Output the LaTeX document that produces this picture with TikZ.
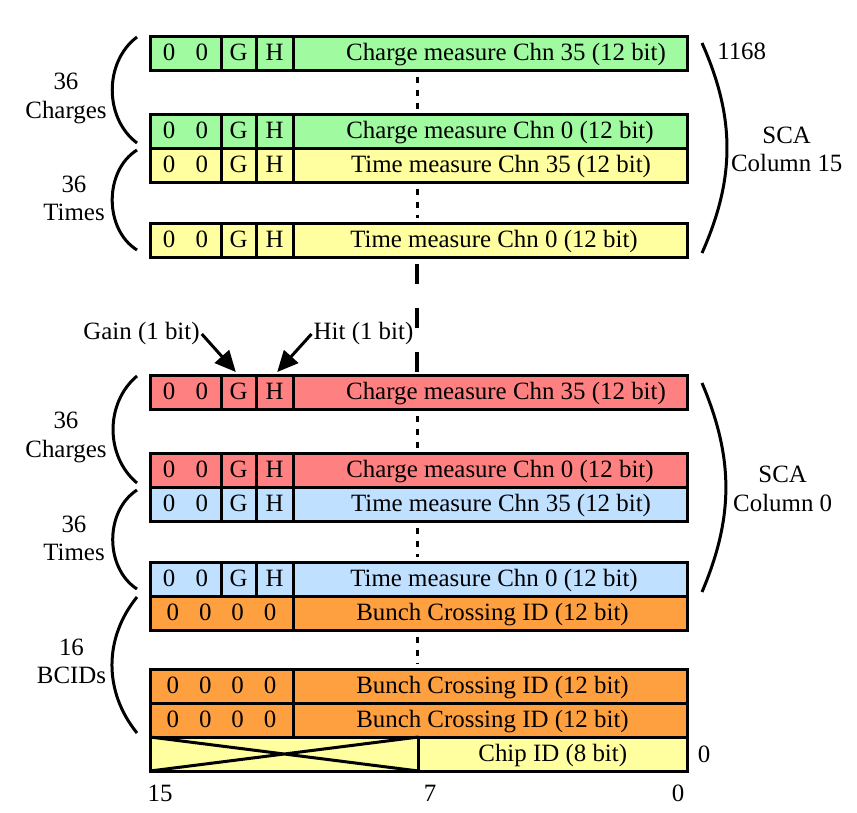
\documentclass[tikz,border=0pt]{standalone}
\usepackage{fontspec}
\setmainfont{Liberation Serif}
\usepackage{xcolor}
\usetikzlibrary{positioning,calc,arrows.meta}

\definecolor{chggreen}{RGB}{160,250,160}
\definecolor{timyellow}{RGB}{255,255,160}
\definecolor{chgred}{RGB}{255,128,128}
\definecolor{timblue}{RGB}{192,224,255}
\definecolor{bcidorange}{RGB}{255,160,64}

\newcommand{\zerotwo}{0\hspace{20.5pt}0}
\newcommand{\zerofour}{0\hspace{20pt}0\hspace{20pt}0\hspace{20pt}0}

\begin{document}
\begin{tikzpicture}[x=1pt, y=-1pt, node distance=0pt,
	font=\fontsize{24.9pt}{28.5pt}\selectfont,
	cell/.style={draw, line width=3pt, inner sep=0pt, outer sep=0pt, minimum height=34pt, text height=19pt, text depth=4pt},
	zz/.style={cell, minimum width=71pt},
	gb/.style={cell, minimum width=35pt},
	hb/.style={cell, minimum width=37pt},
	meas/.style={cell, minimum width=394pt},
	zzzz/.style={cell, minimum width=143pt},
	half/.style={cell, minimum width=268.5pt},
	chgA/.style={fill=chggreen}, timA/.style={fill=timyellow},
	chgB/.style={fill=chgred}, timB/.style={fill=timblue},
	bcid/.style={fill=bcidorange}, chip/.style={fill=timyellow},
	paren/.style={line width=3pt},
	dots/.style={line width=3pt, dash pattern=on 6pt off 7pt, shorten <=7pt, shorten >=5pt},
	gap/.style={line width=4pt, dash pattern=on 20pt off 24pt, shorten <=7pt, shorten >=3pt},
	ptr/.style={-{Triangle[length=21pt,width=19pt]}, line width=3pt, shorten >=4pt},
	lbl/.style={align=center, inner sep=2pt}]
	\useasboundingbox (0,0) rectangle (857,812);

	% SCA column 15
	\node[zz,chgA] (z1) at (185.5,53)          {\zerotwo};
	\node[gb,chgA] (g1) [right=of z1]          {G};
	\node[hb,chgA] (h1) [right=of g1]          {H};
	\node[meas,chgA] (m1) [right=of h1]        {\hspace*{32pt}Charge measure Chn 35 (12 bit)};
	\node[zz,chgA] (z2) [below=44pt of z1]     {\zerotwo};
	\node[gb,chgA] (g2) [right=of z2]          {G};
	\node[hb,chgA] (h2) [right=of g2]          {H};
	\node[meas,chgA] (m2) [right=of h2]        {\hspace*{20pt}Charge measure Chn 0 (12 bit)};
	\node[zz,timA] (z3) [below=of z2]          {\zerotwo};
	\node[gb,timA] (g3) [right=of z3]          {G};
	\node[hb,timA] (h3) [right=of g3]          {H};
	\node[meas,timA] (m3) [right=of h3]        {\hspace*{22pt}Time measure Chn 35 (12 bit)};
	\node[zz,timA] (z4) [below=41pt of z3]     {\zerotwo};
	\node[gb,timA] (g4) [right=of z4]          {G};
	\node[hb,timA] (h4) [right=of g4]          {H};
	\node[meas,timA] (m4) [right=of h4]        {\hspace*{8pt}Time measure Chn 0 (12 bit)};

	% SCA column 0
	\node[zz,chgB] (z5) [below=118pt of z4]    {\zerotwo};
	\node[gb,chgB] (g5) [right=of z5]          {G};
	\node[hb,chgB] (h5) [right=of g5]          {H};
	\node[meas,chgB] (m5) [right=of h5]        {\hspace*{32pt}Charge measure Chn 35 (12 bit)};
	\node[zz,chgB] (z6) [below=44pt of z5]     {\zerotwo};
	\node[gb,chgB] (g6) [right=of z6]          {G};
	\node[hb,chgB] (h6) [right=of g6]          {H};
	\node[meas,chgB] (m6) [right=of h6]        {\hspace*{20pt}Charge measure Chn 0 (12 bit)};
	\node[zz,timB] (z7) [below=of z6]          {\zerotwo};
	\node[gb,timB] (g7) [right=of z7]          {G};
	\node[hb,timB] (h7) [right=of g7]          {H};
	\node[meas,timB] (m7) [right=of h7]        {\hspace*{22pt}Time measure Chn 35 (12 bit)};
	\node[zz,timB] (z8) [below=41pt of z7]     {\zerotwo};
	\node[gb,timB] (g8) [right=of z8]          {G};
	\node[hb,timB] (h8) [right=of g8]          {H};
	\node[meas,timB] (m8) [right=of h8]        {\hspace*{8pt}Time measure Chn 0 (12 bit)};

	% BCIDs and chip ID
	\node[zzzz,bcid] (q9) [below=of z8.south west, anchor=north west] {\zerofour};
	\node[meas,bcid] (m9) [right=of q9]        {\hspace*{5pt}Bunch Crossing ID (12 bit)};
	\node[zzzz,bcid] (q10) [below=39pt of q9]  {\zerofour};
	\node[meas,bcid] (m10) [right=of q10]      {\hspace*{5pt}Bunch Crossing ID (12 bit)};
	\node[zzzz,bcid] (q11) [below=of q10]      {\zerofour};
	\node[meas,bcid] (m11) [right=of q11]      {\hspace*{5pt}Bunch Crossing ID (12 bit)};
	\node[half,chip] (x12) [below=of q11.south west, anchor=north west] {};
	\node[half,chip] (c12) [right=of x12]      {Chip ID (8 bit)};
	\draw[line width=3pt] (x12.north west) -- (x12.south east) (x12.south west) -- (x12.north east);

	% skipped rows
	\coordinate (dotx) at (417,0);
	\draw[dots] (dotx |- m1.south) -- (dotx |- m2.north);
	\draw[dots] (dotx |- m3.south) -- (dotx |- m4.north);
	\draw[gap]  (dotx |- m4.south) -- (dotx |- m5.north);
	\draw[dots] (dotx |- m5.south) -- (dotx |- m6.north);
	\draw[dots] (dotx |- m7.south) -- (dotx |- m8.north);
	\draw[dots] (dotx |- m9.south) -- (dotx |- m10.north);

	% brackets
	\draw[paren] ($(z1.north west)+(-13,1)$) to[bend right=53] ($(z2.south west)+(-13,-5)$);
	\draw[paren] ($(z3.north west)+(-13,2)$) to[bend right=58] ($(z4.south west)+(-13,-7)$);
	\draw[paren] ($(m1.north east)+(15,7)$) to[bend left=24] ($(m4.south east)+(15,-4)$);
	\draw[paren] ($(z5.north west)+(-13,1)$) to[bend right=50] ($(z6.south west)+(-13,-4)$);
	\draw[paren] ($(z7.north west)+(-13,3)$) to[bend right=57] ($(z8.south west)+(-13,-7)$);
	\draw[paren] ($(m5.north east)+(15,8)$) to[bend left=23] ($(m8.south east)+(15,-4)$);
	\draw[paren] ($(q9.north west)+(-13,1)$) to[bend right=39] ($(q11.south west)+(-13,-4)$);

	% labels
	\node[lbl] (chg1) at (66,98.5)      {36\\Charges};
	\node[lbl] (tim1) at (74,198.3)     {36\\Times};
	\node[lbl] (top) at (741.7,51.7)    {1168};
	\node[lbl] (col15) at (786.7,149.6) {SCA\\Column 15};
	\node[lbl] (gain) at (141.5,334)    {Gain (1 bit)};
	\node[lbl] (hit) at (363.5,334)     {Hit (1 bit)};
	\node[lbl] (chg2) at (66,437.6)     {36\\Charges};
	\node[lbl] (tim2) at (74,538.3)     {36\\Times};
	\node[lbl] (col0) at (782.7,489)    {SCA\\Column 0};
	\node[lbl] (bcids) at (71.5,661.4)  {16\\BCIDs};
	\node[lbl] (bottom) at (704,754)    {0};
	\node[lbl] (b15) at (160,793)       {15};
	\node[lbl] (b7) at (430,793)        {7};
	\node[lbl] (b0) at (678,793)        {0};

	\path (gain.east) edge[ptr] (g5.north)
	      (hit.west)  edge[ptr] (h5.north);
\end{tikzpicture}
\end{document}
